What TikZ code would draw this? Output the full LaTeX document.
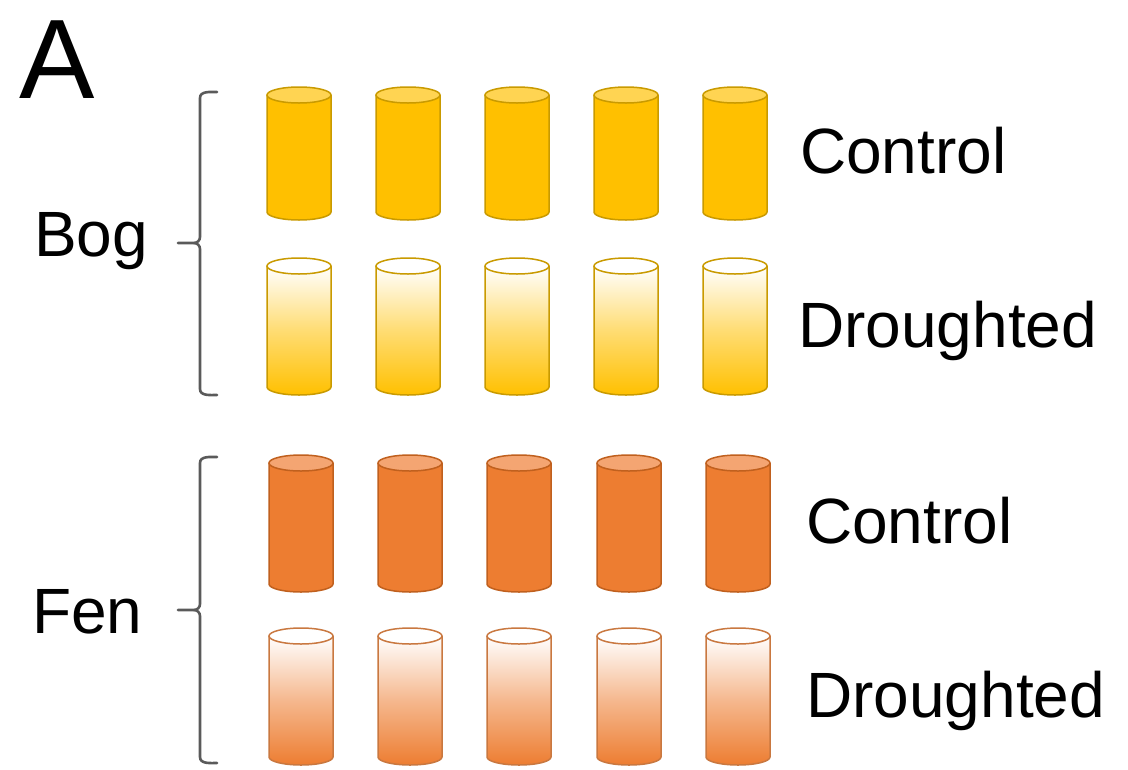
\documentclass[tikz,border=0pt]{standalone}
\usepackage{fontspec}
\setmainfont{Liberation Sans}
\definecolor{bogc}{HTML}{FFC000}
\definecolor{bogtop}{HTML}{FFD452}
\definecolor{bogline}{HTML}{C99A00}
\definecolor{fenc}{HTML}{ED7D31}
\definecolor{fentop}{HTML}{F4A572}
\definecolor{fenline}{HTML}{C0601E}
\definecolor{brk}{HTML}{5A5A5A}
\tikzset{
  lbl/.style={anchor=base west, inner sep=0pt, font=\fontsize{64}{72}\selectfont},
  brace/.style={draw=brk, line width=2.6pt, line cap=round},
}
% #1 cx, #2 ytop, #3 ybot, #4 body fill options, #5 top fill, #6 line colour
\newcommand\mycyl[6]{%
  \path[#4] (#1-32,#2+8) -- (#1-32,#3-8) arc[start angle=180,end angle=360,x radius=32pt,y radius=8pt] -- (#1+32,#2+8) -- cycle;
  \draw[#6, line width=1.5pt] (#1-32,#2+8) -- (#1-32,#3-8) arc[start angle=180,end angle=360,x radius=32pt,y radius=8pt] -- (#1+32,#2+8);
  \draw[#6, line width=1.5pt, fill=#5] (#1,#2+8) ellipse[x radius=32pt,y radius=8pt];
}
\begin{document}
\begin{tikzpicture}[x=1pt,y=-1pt]
\useasboundingbox (0,0) rectangle (1128,769);
% panel letter
\node[anchor=base west, inner sep=0pt, font=\fontsize{113}{120}\selectfont] (A) at (19,98) {A};
% cylinders
\foreach \cx in {299,408,517,626,735} {
  \mycyl{\cx}{87}{220}{fill=bogc}{bogtop}{bogline}
  \mycyl{\cx}{258}{395}{top color=white, bottom color=bogc, middle color=bogc!55}{white}{bogline}
}
\foreach \cx in {301,410,519,629,738} {
  \mycyl{\cx}{455}{592}{fill=fenc}{fentop}{fenline}
  \mycyl{\cx}{628}{765}{top color=white, bottom color=fenc, middle color=fenc!55}{white}{fenline!85!white}
}
% labels
\node[lbl] (bc) at (800,173) {Control};
\node[lbl] (bd) at (798,347) {Droughted};
\node[lbl] (fc) at (806,543) {Control};
\node[lbl] (fd) at (806,717) {Droughted};
\node[lbl] (bog) at (34,256) {Bog};
\node[lbl] (fen) at (32,633) {Fen};
% brackets
\draw[brace] (217,92) to[out=180,in=90] (200,98) -- (200,237) to[out=-90,in=0] (194,243) -- (178,243);
\draw[brace] (194,243) to[out=0,in=90] (200,249) -- (200,389) to[out=-90,in=180] (217,395);
\draw[brace] (217,457) to[out=180,in=90] (200,463) -- (200,604) to[out=-90,in=0] (194,610) -- (178,610);
\draw[brace] (194,610) to[out=0,in=90] (200,616) -- (200,757) to[out=-90,in=180] (217,763);
\end{tikzpicture}
\end{document}
